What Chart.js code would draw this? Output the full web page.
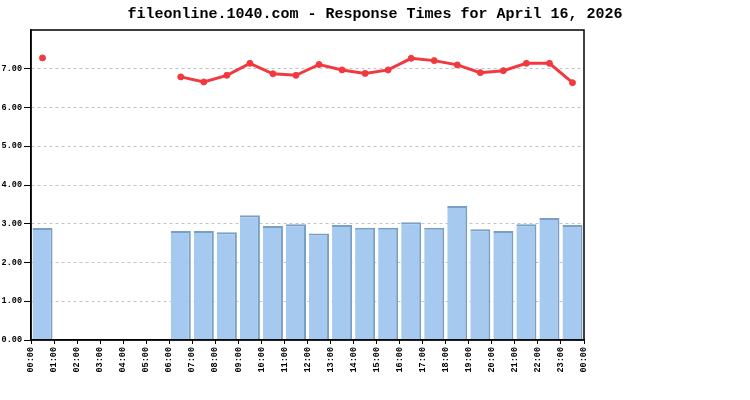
<!DOCTYPE html>
<html>
<head>
<meta charset="utf-8">
<script src="https://cdn.jsdelivr.net/npm/chart.js@4/dist/chart.umd.min.js"></script>
<style>
  html, body { margin: 0; padding: 0; background: #fff; }
  #wrap { width: 750px; height: 400px; }
</style>
</head>
<body>
<div id="wrap"><canvas id="rt" width="750" height="400"></canvas></div>
<script>
// hourly buckets, 00:00 .. 23:00
const hours = ['00', '01', '02', '03', '04', '05', '06', '07', '08', '09', '10', '11',
               '12', '13', '14', '15', '16', '17', '18', '19', '20', '21', '22', '23'];

// bar series (lower values)
const barValues = [2.89, null, null, null, null, null, 2.81, 2.81, 2.78, 3.22, 2.94, 2.99,
                   2.75, 2.97, 2.90, 2.90, 3.04, 2.90, 3.46, 2.86, 2.81, 2.99, 3.15, 2.97];

// line series (upper values)
const lineValues = [7.28, null, null, null, null, null, 6.79, 6.66, 6.83, 7.14, 6.87, 6.83,
                    7.11, 6.97, 6.88, 6.97, 7.27, 7.21, 7.10, 6.90, 6.95, 7.14, 7.14, 6.64];

// tick labels on the hour boundaries
const tickLabels = ['00:00', '01:00', '02:00', '03:00', '04:00', '05:00', '06:00', '07:00',
                    '08:00', '09:00', '10:00', '11:00', '12:00', '13:00', '14:00', '15:00',
                    '16:00', '17:00', '18:00', '19:00', '20:00', '21:00', '22:00', '23:00', '00:00'];

const yMax = 8;
const mono = '"Liberation Mono", "DejaVu Sans Mono", monospace';

// box around the plot area
const frame = {
  id: 'frame',
  afterDatasetsDraw(chart) {
    const { ctx, chartArea: a } = chart;
    ctx.save();
    ctx.strokeStyle = '#000';
    ctx.lineWidth = 1.5;
    ctx.strokeRect(a.left, a.top, a.right - a.left, a.bottom - a.top);
    ctx.restore();
  }
};

new Chart(document.getElementById('rt'), {
  type: 'bar',
  data: {
    labels: hours,
    datasets: [
      {
        type: 'line',
        data: lineValues,
        borderColor: '#f2393f',
        backgroundColor: '#f2393f',
        borderWidth: 3,
        pointRadius: 3,
        pointHoverRadius: 3,
        pointBorderWidth: 1,
        pointStyle: 'circle',
        spanGaps: false,
        tension: 0,
        order: 0,
      },
      {
        data: barValues,
        backgroundColor: '#a6caef',
        borderColor: '#7a9fc5',
        borderWidth: { top: 2, right: 2, left: 0, bottom: 0 },
        borderSkipped: false,
        barPercentage: 0.87,
        categoryPercentage: 1,
        order: 1,
      },
    ],
  },
  options: {
    responsive: false,
    animation: false,
    devicePixelRatio: 1,
    layout: { padding: 0 },
    plugins: {
      legend: { display: false },
      tooltip: { enabled: false },
      title: {
        display: true,
        text: 'fileonline.1040.com - Response Times for April 16, 2026',
        color: '#000',
        font: { family: mono, size: 15, weight: 'bold', lineHeight: 1.2 },
        padding: { top: 5, bottom: 7 },
      },
    },
    scales: {
      x: { display: false, offset: true },
      xt: {
        type: 'linear',
        position: 'bottom',
        min: 0,
        max: 24,
        offset: false,
        afterFit: s => { s.height = 60; },
        ticks: {
          stepSize: 1,
          autoSkip: false,
          maxRotation: 90,
          minRotation: 90,
          padding: 3,
          color: '#000',
          font: { family: mono, size: 8.5, weight: 'bold' },
          callback: v => tickLabels[v],
        },
        grid: { offset: false, drawOnChartArea: false, tickLength: 4, tickColor: '#000' },
        border: { display: true, color: '#000', width: 1.5 },
      },
      y: {
        min: 0,
        max: yMax,
        afterFit: s => { s.width = 31; },
        ticks: {
          stepSize: 1,
          padding: 2,
          color: '#000',
          font: { family: mono, size: 8.5, weight: 'bold' },
          callback: v => (v === yMax ? '' : v.toFixed(2)),
        },
        grid: {
          color: c => (c.tick && (c.tick.value === 0 || c.tick.value === yMax) ? 'rgba(0,0,0,0)' : '#c4c4c4'),
          tickColor: c => (c.tick && c.tick.value === yMax ? 'rgba(0,0,0,0)' : '#000'),
          tickLength: 7,
        },
        border: { display: true, color: '#000', width: 1.5, dash: [3, 3] },
      },
      // empty strip on the right, keeps the plot narrow while the title stays centred on the page
      yr: {
        position: 'right',
        min: 0,
        max: 1,
        afterFit: s => { s.width = 166; },
        ticks: { display: false },
        grid: { display: false },
        border: { display: false },
      },
    },
  },
  plugins: [frame],
});
</script>
</body>
</html>
